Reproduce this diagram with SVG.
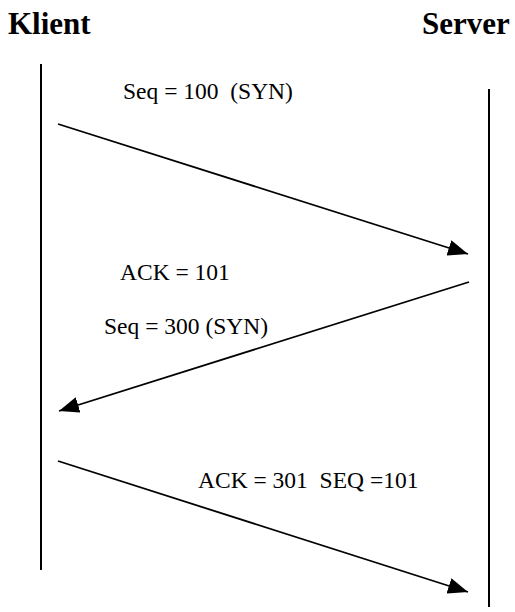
<svg xmlns="http://www.w3.org/2000/svg" width="515" height="612" viewBox="0 0 515 612">
  <style>
    .head { font-family: "Liberation Serif", "Times New Roman", serif; font-size: 31px; font-weight: bold; fill: #000; }
    .lbl { font-family: "Liberation Serif", "Times New Roman", serif; font-size: 23.5px; fill: #000; }
    .life { stroke: #000; stroke-width: 2; fill: none; }
    .msg { stroke: #000; stroke-width: 1.8; fill: none; marker-end: url(#arrow); }
  </style>
  <defs>
    <marker id="arrow" markerUnits="userSpaceOnUse" markerWidth="20" markerHeight="16" viewBox="0 0 20 16" refX="20" refY="8" orient="auto">
      <path d="M0,0 L20,8 L0,16 Z" fill="#000"/>
    </marker>
  </defs>

  <!-- participants -->
  <g id="klient">
    <text class="head" x="8" y="34">Klient</text>
    <line class="life" x1="41" y1="64" x2="41" y2="570"/>
  </g>
  <g id="server">
    <text class="head" x="422" y="34">Server</text>
    <line class="life" x1="489" y1="89" x2="489" y2="607"/>
  </g>

  <!-- messages -->
  <g id="connectors">
    <line class="msg" x1="58" y1="124" x2="468" y2="254"/>
    <line class="msg" x1="469" y1="282" x2="59" y2="411"/>
    <line class="msg" x1="58" y1="461" x2="468" y2="592"/>
  </g>

  <!-- message labels -->
  <g id="labels">
    <text class="lbl" x="123" y="99" xml:space="preserve">Seq = 100  (SYN)</text>
    <text class="lbl" x="120" y="280">ACK = 101</text>
    <text class="lbl" x="104" y="334">Seq = 300 (SYN)</text>
    <text class="lbl" x="198" y="488" xml:space="preserve">ACK = 301  SEQ =101</text>
  </g>
</svg>
